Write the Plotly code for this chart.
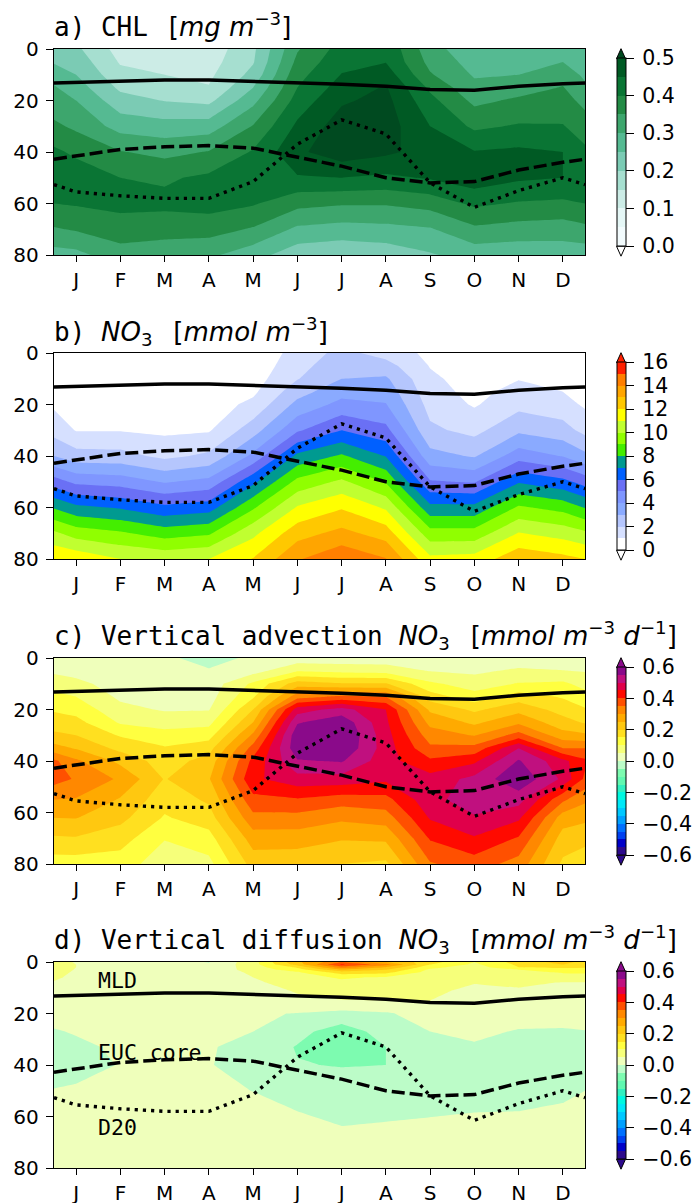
import numpy as np
import plotly.graph_objects as go

W, H = 694, 1203
MONTHS = ["J", "F", "M", "A", "M", "J", "J", "A", "S", "O", "N", "D"]
X = [0, 0.5, 1.5, 2.5, 3.5, 4.5, 5.5, 6.5, 7.5, 8.5, 9.5, 10.5, 11.5, 12]

MLD = [13.2, 13, 12.5, 12, 12, 12.5, 13.3, 13.7, 14.5, 15.7, 16, 14.5, 13.5, 13.2]
EUC = [42.8, 41.5, 39, 38, 37.5, 38.5, 42, 45.5, 50, 52, 51.5, 47, 44, 42.8]
D20 = [52.7, 55.5, 57, 58, 58, 51.5, 37, 27.5, 33, 52, 61.5, 55, 50, 52.7]

DEPTH_A = [0, 5, 10, 15, 20, 30, 40, 50, 60, 70, 80]
CHL = [
    [.22, .245, .28, .305, .32, .36, .41, .43, .40, .345, .28],
    [.21, .23, .25, .275, .30, .34, .39, .43, .405, .355, .285],
    [.13, .145, .165, .19, .22, .28, .353, .40, .415, .375, .33],
    [.12, .135, .15, .175, .198, .27, .335, .393, .413, .37, .32],
    [.12, .13, .14, .153, .187, .275, .353, .41, .42, .37, .31],
    [.19, .196, .215, .25, .285, .353, .405, .43, .405, .345, .27],
    [.345, .363, .383, .40, .42, .46, .49, .445, .365, .29, .22],
    [.42, .435, .452, .472, .493, .525, .53, .45, .355, .28, .21],
    [.44, .448, .477, .505, .515, .525, .51, .44, .355, .285, .22],
    [.32, .335, .355, .39, .415, .45, .48, .455, .37, .295, .245],
    [.265, .28, .295, .313, .338, .39, .453, .48, .41, .34, .27],
    [.26, .285, .30, .33, .358, .405, .46, .458, .395, .33, .265],
    [.275, .30, .33, .353, .37, .403, .45, .45, .39, .325, .27],
    [.26, .275, .29, .31, .335, .375, .41, .43, .40, .337, .27],
]
NO3 = [
    [.1, .3, .5, .7, .85, 1.6, 3, 5.45, 7.9, 10.2, 11.9],
    [.1, .2, .3, .45, .6, .95, 2.42, 4.75, 7.25, 9.55, 11.7],
    [.1, .2, .3, .45, .6, .95, 2.35, 4.55, 6.9, 9.15, 11],
    [.1, .15, .25, .35, .45, .8, 1.75, 3.9, 6.25, 8.55, 10.75],
    [.1, .2, .3, .4, .5, .9, 2.2, 4.3, 6.55, 8.85, 11],
    [.2, .35, .55, .8, 1.25, 2.55, 4.25, 6.75, 8.85, 10.75, 12.05],
    [1.4, 1.65, 1.95, 2.6, 3.3, 4.85, 7.25, 9.3, 11.1, 12.6, 13.9],
    [2.3, 2.65, 3.0, 3.65, 4.3, 6.0, 8.15, 10.2, 11.9, 13.3, 14.8],
    [1.6, 2.4, 3.15, 3.6, 4.05, 5.3, 6.95, 8.9, 10.85, 12.55, 14.05],
    [.75, .95, 1.2, 1.4, 1.65, 2.2, 3.35, 5.1, 7.3, 9.4, 11.25],
    [.2, .4, .55, .7, .9, 1.7, 2.9, 4.9, 7.3, 9.4, 11.4],
    [.3, .65, .95, 1.35, 1.7, 2.8, 4.55, 6.9, 9.15, 11.05, 12.7],
    [.2, .45, .7, 1.0, 1.4, 2.4, 3.95, 6.3, 8.65, 10.6, 12.3],
    [.1, .3, .45, .65, .85, 1.7, 3.25, 5.6, 7.95, 10.2, 12],
]
DEPTH_C = [0, 5, 10, 15, 20, 25, 30, 35, 40, 47, 55, 62, 70, 80]
ADV = [
    [.01, .04, .08, .112, .144, .175, .21, .27, .36, .37, .30, .25, .193, .125],
    [.01, .03, .065, .10, .132, .166, .20, .245, .31, .345, .296, .252, .196, .125],
    [.01, .015, .025, .04, .065, .094, .145, .185, .237, .292, .245, .215, .172, .125],
    [.01, .01, .02, .03, .045, .08, .118, .155, .175, .197, .17, .145, .103, .07],
    [-.02, .005, .02, .03, .047, .085, .13, .18, .22, .245, .208, .177, .13, .085],
    [.01, .03, .11, .143, .2, .25, .31, .37, .415, .44, .385, .335, .275, .22],
    [.02, .095, .225, .33, .475, .545, .585, .585, .545, .48, .395, .333, .275, .215],
    [.02, .085, .205, .36, .52, .585, .605, .595, .555, .48, .375, .31, .255, .2],
    [.02, .08, .205, .35, .45, .46, .47, .475, .47, .46, .383, .325, .26, .19],
    [.015, .048, .11, .175, .24, .285, .325, .36, .41, .47, .485, .455, .405, .345],
    [.01, .04, .075, .12, .19, .24, .297, .367, .44, .515, .525, .495, .445, .375],
    [.015, .06, .103, .175, .233, .29, .37, .50, .555, .59, .52, .46, .395, .33],
    [.015, .052, .11, .145, .18, .22, .27, .35, .465, .49, .36, .275, .228, .19],
    [.01, .047, .083, .118, .155, .195, .26, .35, .41, .39, .31, .262, .215, .17],
]
DEPTH_D = [0, 1, 2, 3, 4, 6, 8, 11, 15, 20, 27, 33, 40, 50, 58, 64, 80]
DIF = [
    [.095, .10, .095, .085, .075, .06, .045, .03, .02, .01, -.002, -.01, -.01, .001, .01, .01, .01],
    [.04, .05, .05, .045, .04, .035, .03, .025, .02, .01, .002, -.005, -.008, .003, .01, .01, .01],
    [.02, .02, .02, .02, .02, .02, .02, .02, .015, .012, .008, .004, .001, .006, .01, .012, .012],
    [.015, .015, .015, .02, .02, .02, .02, .02, .015, .012, .008, .004, .001, .006, .01, .012, .012],
    [-.002, .005, .01, .015, .015, .015, .015, .015, .015, .012, .008, .005, .004, .008, .01, .012, .012],
    [.08, .08, .075, .07, .06, .05, .04, .03, .02, .006, 0, -.02, -.03, -.0005, .01, .015, .015],
    [.24, .22, .16, .125, .095, .085, .075, .055, .04, -.002, -.035, -.053, -.048, -.02, 0, .01, .015],
    [.34, .41, .33, .245, .175, .105, .09, .07, .048, -.015, -.075, -.08, -.052, -.03, -.01, .0005, .015],
    [.25, .32, .25, .2, .165, .095, .085, .07, .05, -.005, -.03, -.05, -.05, -.03, -.008, .004, .015],
    [.17, .15, .115, .09, .08, .07, .065, .06, .05, .02, 0, -.012, -.02, -.02, -.003, .005, .015],
    [.1, .09, .075, .065, .06, .055, .052, .04, .03, .018, .006, -.003, -.025, -.02, -.0005, .006, .015],
    [.17, .16, .15, .1, .085, .07, .06, .045, .03, .012, -.002, -.02, -.045, -.015, 0, .008, .015],
    [.22, .2, .16, .13, .105, .075, .048, .04, .03, .012, -.003, -.018, -.02, -.006, .004, .008, .015],
    [.18, .17, .155, .13, .11, .07, .048, .04, .03, .012, -.001, -.015, -.02, 0, .006, .01, .015],
]

GREENS = ["#f2fbfd", "#e5f7f6", "#ccece6", "#a6dfd0", "#7bcbb4", "#55ba92", "#3da66d",
          "#238b45", "#0a7534", "#005a24", "#004a20"]
RAINBOW = ["#ffffff", "#d6e0ff", "#b5c6fd", "#8aaaff", "#7f96ff", "#6a70f5", "#0060ff", "#009a90",
           "#44ee00", "#90ff00", "#c0ff30", "#ffff00", "#ffc800", "#ffa500", "#ff7f00", "#ff2000"]
DIVERGE = ["#2d0a8c", "#0000c8", "#0040f0", "#0070ff", "#00a0ff", "#00c8ff", "#00e8f8", "#00f8e0",
           "#30f0c0", "#60f8b0", "#7dfbb0", "#bcfcc8", "#efffbb", "#f6ff7a", "#ffff40", "#ffe020",
           "#ffc810", "#ffaa00", "#ff8800", "#ff5000", "#ff0a00", "#e0004a", "#c0107f", "#8a0a8a"]

SANS = "DejaVu Sans"
MONO = "DejaVu Sans Mono"


def it(s):
    return f"<span style=\"font-family:'{SANS}';font-style:italic\">{s}</span>"


def br(s):
    return f"<span style=\"font-family:'{SANS}'\">{s}</span>"


THIN = br("\u2009")
NO3_TXT = it("NO") + "<sub>" + br("3") + "</sub>"
M3_TXT = it("mmol m") + "<sup>" + br("−3") + "</sup>"
D1_TXT = it("d") + "<sup>" + br("−1") + "</sup>"
PAD = "<span style=\"font-size:13px\">\u00a0</span>"

PANELS = [
    dict(top=49, cols=CHL, depth=DEPTH_A, start=.05, end=.501, size=.05, colors=GREENS,
         bar=GREENS[:10], zmin=0, zmax=.5, over=GREENS[10], under="#ffffff", title_dy=0,
         tv=[0, .1, .2, .3, .4, .5], tt=["0.0", "0.1", "0.2", "0.3", "0.4", "0.5"],
         title="a) CHL " + THIN + br("[") + it("mg m") + "<sup>" + br("−3") + "</sup>" + br("]")),
    dict(top=353, cols=NO3, depth=DEPTH_A, start=1, end=15.01, size=1, colors=RAINBOW,
         bar=RAINBOW, zmin=0, zmax=16, over=RAINBOW[15], under="#ffffff", title_dy=4,
         tv=list(range(0, 17, 2)), tt=[str(v) for v in range(0, 17, 2)],
         title="b) " + NO3_TXT + " " + THIN + br("[") + M3_TXT + br("]")),
    dict(top=658, cols=ADV, depth=DEPTH_C, start=-.55, end=.551, size=.05, colors=DIVERGE,
         bar=DIVERGE, zmin=-.6, zmax=.6, over=DIVERGE[23], under=DIVERGE[0], title_dy=3,
         tv=[-.6, -.4, -.2, 0, .2, .4, .6], tt=["−0.6", "−0.4", "−0.2", "0.0", "0.2", "0.4", "0.6"],
         title="c) Vertical advection " + NO3_TXT + " " + THIN + br("[") + M3_TXT + br(" ") + D1_TXT + br("]")),
    dict(top=962, cols=DIF, depth=DEPTH_D, start=-.55, end=.551, size=.05, colors=DIVERGE,
         bar=DIVERGE, zmin=-.6, zmax=.6, over=DIVERGE[23], under=DIVERGE[0], title_dy=3,
         tv=[-.6, -.4, -.2, 0, .2, .4, .6], tt=["−0.6", "−0.4", "−0.2", "0.0", "0.2", "0.4", "0.6"],
         title="d) Vertical diffusion " + NO3_TXT + " " + THIN + br("[") + M3_TXT + br(" ") + D1_TXT + br("]")),
]

AX_H = 206
AX_L, AX_R = 54, 585
BAR_L = 616.5


def px(x):
    return x / W


def py(y):
    return 1 - y / H


def stepped(colors):
    n = len(colors)
    out = []
    for i, c in enumerate(colors):
        out += [[i / n, c], [(i + 1) / n, c]]
    return out


fig = go.Figure()
shapes = []
annotations = []
layout = {}

for i, p in enumerate(PANELS, start=1):
    xa, ya = f"x{i}", f"y{i}"
    z = np.array(p["cols"]).T.tolist()
    n = len(p["colors"])
    fig.add_trace(go.Contour(
        x=X, y=p["depth"], z=z, xaxis=xa, yaxis=ya, autocontour=False, showscale=False,
        hoverinfo="skip",
        contours=dict(start=p["start"], end=p["end"], size=p["size"], coloring="fill", showlines=False),
        line=dict(width=0, smoothing=0),
        colorscale=[[k / (n - 1), c] for k, c in enumerate(p["colors"])],
    ))
    top = p["top"]
    # colour bar key: trace sits outside the axis range, only its colour bar shows
    fig.add_trace(go.Heatmap(
        x=[100, 101], y=[100, 101], z=[[p["zmin"], p["zmax"]], [p["zmin"], p["zmax"]]],
        xaxis=xa, yaxis=ya, zmin=p["zmin"], zmax=p["zmax"], hoverinfo="skip",
        colorscale=stepped(p["bar"]),
        colorbar=dict(
            x=px(BAR_L), xanchor="left", xpad=0, ypad=0,
            y=py(top + AX_H / 2), yanchor="middle",
            lenmode="pixels", len=187.5, thicknessmode="pixels", thickness=9,
            outlinewidth=1, outlinecolor="black", borderwidth=0,
            ticks="outside", ticklen=8, tickwidth=1.3, tickcolor="black",
            tickmode="array", tickvals=p["tv"], ticktext=[PAD + t for t in p["tt"]],
            tickfont=dict(family=SANS, size=20.5, color="black"),
        ),
    ))
    for series, dash, lw in ((MLD, "solid", 3.5), (EUC, "13px,5px", 3.5), (D20, "3.2px,5px", 3.4)):
        fig.add_trace(go.Scatter(x=X, y=series, xaxis=xa, yaxis=ya, mode="lines", hoverinfo="skip",
                                 showlegend=False, line=dict(color="black", width=lw, dash=dash)))
    axis = dict(showline=True, mirror=True, linecolor="black", linewidth=1.4, showgrid=False, zeroline=False,
                ticks="outside", tickcolor="black", tickwidth=1.3,
                tickfont=dict(family=SANS, size=20, color="black"))
    layout[f"xaxis{i}"] = dict(axis, domain=[px(AX_L), px(AX_R)], range=[0, 12], anchor=ya, ticklen=6,
                               tickmode="array", tickvals=X[1:13], ticktext=MONTHS, ticklabelstandoff=1)
    layout[f"yaxis{i}"] = dict(axis, domain=[py(top + AX_H), py(top)], range=[80, 0], anchor=xa, ticklen=7,
                               tickmode="array", tickvals=[0, 20, 40, 60, 80], ticktext=["0", "20", "40", "60", "80"],
                               ticklabelstandoff=3)
    annotations.append(dict(xref="paper", yref="paper", x=px(AX_L - 1), y=py(top - 6 + p["title_dy"]),
                            xanchor="left", yanchor="bottom",
                            showarrow=False, align="left", text=p["title"],
                            font=dict(family=MONO, size=26, color="black"), borderpad=0))
    # extension triangles of the colour bar
    bl, br_, mid = BAR_L, BAR_L + 9, BAR_L + 4.5
    bt, bb = top + 9.7, top + 9.7 + 187.5
    shapes.append(dict(type="path", xref="paper", yref="paper", layer="above",
                       path=f"M{px(bl)},{py(bt)} L{px(mid)},{py(bt - 10)} L{px(br_)},{py(bt)} Z",
                       fillcolor=p["over"], line=dict(color="black", width=1)))
    shapes.append(dict(type="path", xref="paper", yref="paper", layer="above",
                       path=f"M{px(bl)},{py(bb)} L{px(mid)},{py(bb + 10)} L{px(br_)},{py(bb)} Z",
                       fillcolor=p["under"], line=dict(color="black", width=1)))

for label, ypix in (("MLD", 980.7), ("EUC core", 1052.7), ("D20", 1127)):
    annotations.append(dict(xref="paper", yref="paper", x=px(97), y=py(ypix), xanchor="left", yanchor="middle",
                            showarrow=False, text=label, font=dict(family=MONO, size=21.5, color="black"), borderpad=0))

fig.update_layout(width=W, height=H, margin=dict(l=0, r=0, t=0, b=0, autoexpand=False),
                  paper_bgcolor="white", plot_bgcolor="white", showlegend=False,
                  shapes=shapes, annotations=annotations, **layout)
fig.write_html("out.html", config={"displayModeBar": False},
               post_script="document.body.style.margin='0';")
